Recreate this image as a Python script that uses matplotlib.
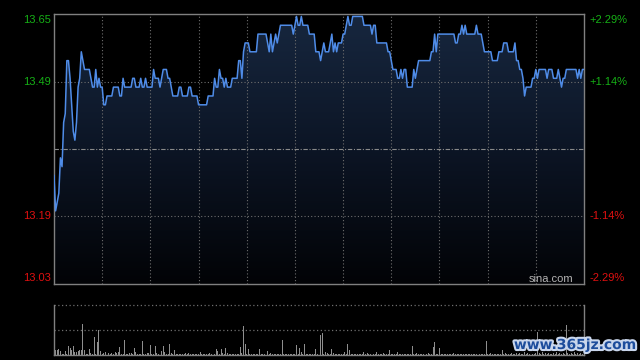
import numpy as np
import matplotlib
matplotlib.use("Agg")
import matplotlib.pyplot as plt
from matplotlib.colors import LinearSegmentedColormap
from matplotlib.patches import PathPatch
import matplotlib.patheffects as pe

# data (HK session, one value per minute 9:30-12:00, 13:00-16:00)
prev_close = 13.34

price = [
    13.28, 13.20, 13.22, 13.24, 13.32, 13.30, 13.40, 13.42, 13.54, 13.54,
    13.50, 13.44, 13.38, 13.36, 13.40, 13.48, 13.50, 13.56, 13.54, 13.52,
    13.52, 13.52, 13.52, 13.50, 13.48, 13.48, 13.52, 13.48, 13.50, 13.48,
    13.48, 13.44, 13.44, 13.46, 13.46, 13.46, 13.46, 13.48, 13.48, 13.48,
    13.48, 13.46, 13.46, 13.50, 13.48, 13.48, 13.48, 13.48, 13.48, 13.50,
    13.50, 13.48, 13.48, 13.48, 13.50, 13.48, 13.48, 13.50, 13.48, 13.48,
    13.48, 13.48, 13.52, 13.50, 13.50, 13.50, 13.48, 13.50, 13.52, 13.52,
    13.52, 13.50, 13.50, 13.48, 13.46, 13.46, 13.46, 13.46, 13.48, 13.48,
    13.46, 13.46, 13.46, 13.46, 13.48, 13.48, 13.46, 13.46, 13.46, 13.46,
    13.44, 13.44, 13.44, 13.44, 13.44, 13.44, 13.46, 13.46, 13.46, 13.46,
    13.50, 13.48, 13.48, 13.52, 13.50, 13.50, 13.48, 13.50, 13.48, 13.48,
    13.48, 13.50, 13.50, 13.50, 13.50, 13.54, 13.54, 13.50, 13.56, 13.58,
    13.58, 13.58, 13.56, 13.56, 13.56, 13.56, 13.56, 13.60, 13.60, 13.60,
    13.60, 13.60, 13.60, 13.58, 13.56, 13.60, 13.56, 13.58, 13.60, 13.58,
    13.60, 13.62, 13.62, 13.62, 13.62, 13.62, 13.62, 13.62, 13.62, 13.60,
    13.62, 13.64, 13.62, 13.62, 13.64, 13.62, 13.62, 13.62, 13.62, 13.60,
    13.60, 13.60, 13.60, 13.56, 13.56, 13.56, 13.54, 13.56, 13.58, 13.56,
    13.56, 13.56, 13.58, 13.60, 13.56, 13.58, 13.56, 13.58, 13.58, 13.58,
    13.60, 13.60, 13.62, 13.64, 13.62, 13.62, 13.64, 13.64, 13.64, 13.64,
    13.64, 13.64, 13.64, 13.62, 13.62, 13.62, 13.62, 13.62, 13.60, 13.62,
    13.62, 13.58, 13.58, 13.58, 13.58, 13.58, 13.58, 13.58, 13.56, 13.56,
    13.54, 13.52, 13.52, 13.52, 13.50, 13.50, 13.52, 13.50, 13.52, 13.52,
    13.48, 13.48, 13.48, 13.48, 13.52, 13.50, 13.52, 13.54, 13.54, 13.54,
    13.54, 13.54, 13.54, 13.54, 13.54, 13.56, 13.56, 13.60, 13.56, 13.60,
    13.60, 13.60, 13.60, 13.60, 13.60, 13.60, 13.60, 13.60, 13.60, 13.60,
    13.58, 13.58, 13.60, 13.60, 13.62, 13.60, 13.62, 13.60, 13.60, 13.60,
    13.60, 13.60, 13.60, 13.62, 13.60, 13.60, 13.60, 13.58, 13.56, 13.56,
    13.56, 13.56, 13.56, 13.54, 13.54, 13.54, 13.54, 13.56, 13.56, 13.56,
    13.58, 13.58, 13.58, 13.56, 13.56, 13.56, 13.56, 13.58, 13.54, 13.54,
    13.52, 13.52, 13.50, 13.46, 13.48, 13.48, 13.48, 13.48, 13.50, 13.50,
    13.52, 13.50, 13.52, 13.52, 13.52, 13.52, 13.52, 13.50, 13.52, 13.52,
    13.52, 13.50, 13.50, 13.50, 13.52, 13.50, 13.48, 13.50, 13.50, 13.52,
    13.52, 13.52, 13.52, 13.52, 13.52, 13.52, 13.50, 13.52, 13.50, 13.52,
    13.52,
]

# volume per minute (hundreds of shares)
volume = [
    5.0, 5.0, 5.3, 6.0, 4.3, 1.5, 1.2, 3.6, 1.5, 9.3,
    7.0, 5.0, 9.3, 2.6, 3.0, 3.6, 5.0, 5.3, 31.3, 5.0,
    1.0, 1.5, 6.3, 2.0, 1.2, 18.3, 1.5, 13.3, 25.0, 4.3,
    1.2, 2.0, 2.6, 3.3, 2.0, 1.0, 1.7, 1.2, 3.3, 2.3,
    3.3, 8.3, 1.0, 1.5, 15.0, 1.0, 1.2, 2.3, 2.3, 1.0,
    7.3, 2.6, 1.0, 1.2, 1.0, 14.3, 1.2, 1.0, 2.3, 2.3,
    10.3, 1.2, 1.0, 9.3, 2.3, 1.2, 8.3, 4.3, 9.3, 2.6,
    1.0, 1.2, 11.3, 2.3, 1.0, 5.3, 1.0, 1.2, 1.0, 0.8,
    1.0, 1.2, 2.3, 1.0, 2.3, 1.0, 1.0, 0.8, 1.2, 1.0,
    0.8, 3.3, 1.0, 1.0, 0.8, 1.2, 1.0, 2.3, 1.0, 1.0,
    1.2, 6.0, 3.6, 1.0, 6.0, 2.3, 1.0, 7.0, 2.3, 1.0,
    0.8, 1.0, 1.0, 1.2, 1.0, 0.8, 8.3, 2.3, 29.3, 11.3,
    1.5, 6.3, 1.0, 1.0, 0.8, 1.0, 1.2, 1.0, 6.3, 1.0,
    1.0, 0.8, 1.2, 4.3, 1.5, 2.3, 1.0, 1.2, 1.0, 0.8,
    1.0, 1.2, 15.0, 1.5, 1.0, 1.0, 0.8, 1.2, 1.0, 1.0,
    1.2, 10.3, 1.5, 6.6, 2.6, 1.0, 11.3, 1.0, 1.2, 0.8,
    1.0, 1.2, 1.0, 6.0, 1.5, 1.0, 20.0, 21.6, 1.5, 3.3,
    1.6, 1.0, 1.2, 6.0, 2.0, 1.0, 0.8, 1.2, 1.0, 1.0,
    1.2, 3.3, 1.0, 11.3, 5.0, 1.2, 1.0, 0.8, 1.0, 1.2,
    1.0, 0.8, 1.0, 3.3, 1.2, 1.6, 1.0, 0.8, 1.2, 1.0,
    1.2, 3.3, 1.0, 0.8, 1.0, 1.6, 1.2, 1.0, 0.8, 5.0,
    1.2, 1.0, 1.0, 0.8, 3.3, 1.2, 1.0, 0.8, 1.0, 1.2,
    1.0, 0.8, 1.2, 9.3, 1.0, 1.2, 2.3, 1.0, 1.0, 0.8,
    1.2, 1.0, 0.8, 1.6, 1.0, 1.2, 7.6, 12.6, 1.5, 1.0,
    7.0, 1.2, 1.0, 0.8, 1.0, 1.0, 1.2, 0.8, 1.0, 1.6,
    1.0, 0.8, 1.2, 1.0, 1.0, 0.8, 1.2, 1.0, 1.0, 0.8,
    1.2, 1.0, 1.0, 0.8, 1.2, 1.0, 1.0, 0.8, 1.5, 14.3,
    1.2, 1.0, 2.3, 0.8, 1.0, 1.2, 1.0, 0.8, 1.5, 5.0,
    1.2, 2.3, 1.0, 0.8, 1.0, 1.6, 1.2, 1.0, 2.0, 1.5,
    2.3, 1.0, 1.5, 3.0, 1.2, 2.0, 1.0, 2.5, 1.5, 1.2,
    2.0, 23.3, 2.5, 1.5, 3.0, 1.2, 2.0, 1.5, 2.5, 1.0,
    1.5, 2.0, 1.2, 3.0, 1.5, 2.0, 1.0, 2.5, 1.5, 30.3,
    2.0, 1.5, 2.5, 1.2, 3.0, 1.5, 2.0, 1.2, 2.5, 1.5,
    2.0,
]

pct_levels = [2.29, 1.14, -1.14, -2.29]
left_labels = ["13.65", "13.49", "13.19", "13.03"]
right_labels = ["+2.29%", "+1.14%", "-1.14%", "-2.29%"]

minutes = np.arange(len(price))
n_last = len(price) - 1
lo = prev_close * (1 - 0.0229)
hi = prev_close * (1 + 0.0229)
levels = [prev_close * (1 + p / 100) for p in pct_levels]

GREEN = "#16b016"
RED = "#e01010"
GRID = "#6e6e6e"
EDGE = "#808080"
FONT = ["Liberation Sans", "DejaVu Sans"]

fig = plt.figure(figsize=(6.4, 3.6), dpi=100, facecolor="black")
ax = fig.add_axes([54 / 640, 76 / 360, 530 / 640, 270 / 360])
axv = fig.add_axes([54 / 640, 5 / 360, 530 / 640, 50 / 360])

# price panel
ax.set_facecolor("black")
ax.set_xlim(0, n_last)
ax.set_ylim(lo, hi)
ax.set_xticks([]); ax.set_yticks([])
for s in ax.spines.values():
    s.set_color(EDGE); s.set_linewidth(1.0)

for m in range(30, n_last, 30):
    ax.axvline(m, color=GRID, lw=0.8, ls=(0, (1, 2)), zorder=2)
for lv in levels[1:3]:
    ax.axhline(lv, color=GRID, lw=0.8, ls=(0, (1, 2)), zorder=2)
ax.axhline(prev_close, color="#8a8a8a", lw=0.8, ls=(0, (4, 1.5, 1, 1.5)), zorder=2)

# gradient area under the line
fb = ax.fill_between(minutes, price, lo, facecolor="none", edgecolor="none")
clip = PathPatch(fb.get_paths()[0], transform=ax.transData,
                 facecolor="none", edgecolor="none")
ax.add_patch(clip)
cmap = LinearSegmentedColormap.from_list("area", ["#020306", "#0c1525", "#17273f"])
grad = np.linspace(0, 1, 256).reshape(-1, 1)
im = ax.imshow(grad, extent=[0, n_last, lo, hi], origin="lower",
               aspect="auto", cmap=cmap, zorder=1)
im.set_clip_path(clip)
ax.set_xlim(0, n_last); ax.set_ylim(lo, hi)

ax.plot(minutes, price, color="#4f8ce8", lw=1.1, zorder=3)

ytr = ax.get_yaxis_transform()
nudge = [-0.0135, 0, 0, 0.0135]
for lv, dy, lt, rt, p in zip(levels, nudge, left_labels, right_labels, pct_levels):
    c = GREEN if p > 0 else RED
    ax.text(-0.006, lv + dy, lt, transform=ytr, ha="right", va="center",
            color=c, fontsize=8, family=FONT)
    ax.text(1.011, lv + dy, rt, transform=ytr, ha="left", va="center",
            color=c, fontsize=8, family=FONT)

ax.text(0.979, 0.02, "sina.com", transform=ax.transAxes, ha="right", va="center",
        color="#b4b4b4", fontsize=8, family=FONT, zorder=4)

# volume panel
axv.set_facecolor("black")
axv.set_xlim(0, n_last)
axv.set_ylim(0, 50)
axv.set_xticks([]); axv.set_yticks([])
axv.spines["top"].set_visible(False)
for k in ("left", "right", "bottom"):
    axv.spines[k].set_color(EDGE); axv.spines[k].set_linewidth(1.0)
axv.axhline(50, color=GRID, lw=0.9, ls=(0, (1, 2)), clip_on=False)
axv.axhline(25, color=GRID, lw=0.9, ls=(0, (1, 2)))
axv.bar(minutes, volume, width=0.6, color="#8e8e8e", linewidth=0)

fig.text(575 / 640, 15 / 360, "www.365jz.com", ha="center", va="center",
         fontsize=10, weight="bold", color="#1d4d9c", family=["DejaVu Sans"],
         path_effects=[pe.withStroke(linewidth=3, foreground="#c9d6ec")])

fig.savefig("out.png", dpi=100, facecolor="black")
